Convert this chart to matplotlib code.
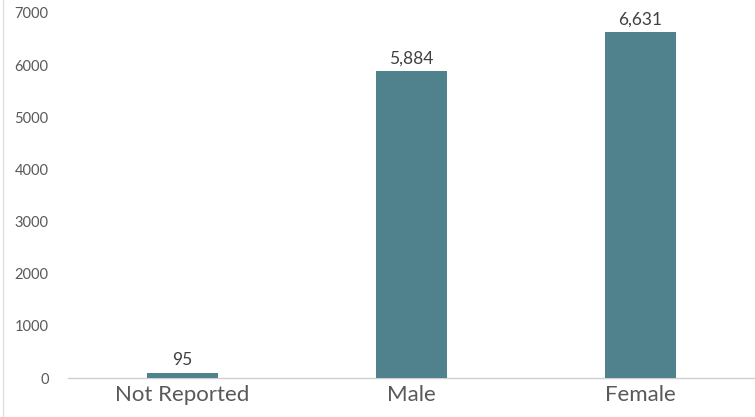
import matplotlib.pyplot as plt
from matplotlib.lines import Line2D

categories = ["Not Reported", "Male", "Female"]
counts = [95, 5884, 6631]

plt.rcParams['font.family'] = ['Lato', 'DejaVu Sans']

fig = plt.figure(figsize=(7.55, 4.17), dpi=100)
ax = fig.add_axes([0.090, 0.0935, 0.91, 0.8755])

bar_color = "#50828e"
x = range(len(categories))
bars = ax.bar(x, counts, width=0.31, color=bar_color, zorder=3)

for b, v in zip(bars, counts):
    ax.text(b.get_x() + b.get_width() / 2, v + 90, f"{v:,}",
            ha='center', va='bottom', fontsize=12.5, color='#404040')

ax.set_xlim(-0.5, 2.5)
ax.set_ylim(0, 7000)
ax.set_yticks(range(0, 7001, 1000))
ax.set_xticks(list(x))
ax.set_xticklabels(categories, fontsize=16, color='#595959')
ax.tick_params(axis='y', labelsize=10.5, colors='#595959', length=0, pad=14)
ax.tick_params(axis='x', length=0, pad=5)

for s in ['top', 'right', 'left']:
    ax.spines[s].set_visible(False)
ax.spines['bottom'].set_color('#d0d0d0')
ax.spines['bottom'].set_linewidth(1)

# faint frame line at the left edge
fig.add_artist(Line2D([0.004, 0.004], [0, 1], color='#e0e0e0', lw=1,
                      transform=fig.transFigure))

fig.savefig("out.png", dpi=100)
